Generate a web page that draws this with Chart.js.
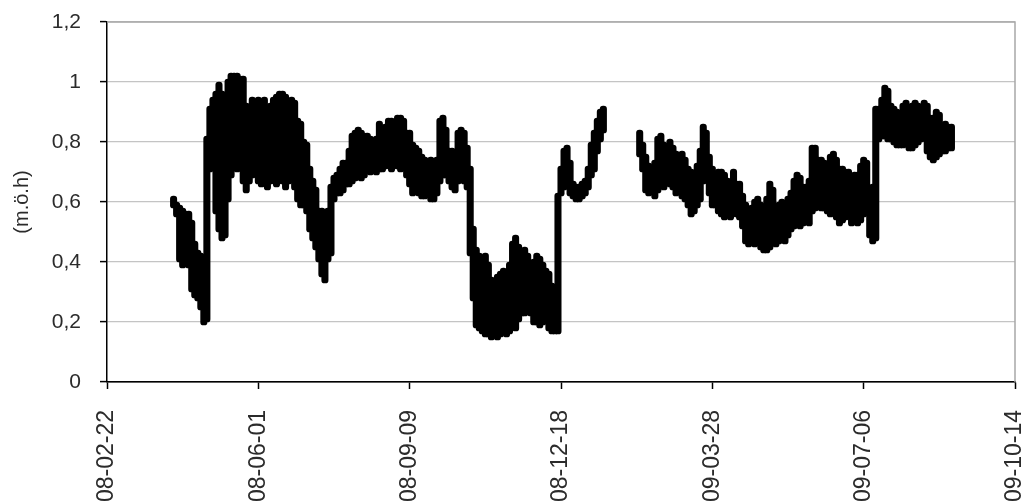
<!DOCTYPE html>
<html>
<head>
<meta charset="utf-8">
<script src="https://cdn.jsdelivr.net/npm/chart.js@4"></script>
<style>
  html, body { margin: 0; padding: 0; background: #fff; }
  #wrap { width: 1022px; height: 501px; position: relative; }
</style>
</head>
<body>
<div id="wrap"><canvas id="c"></canvas></div>
<script>
// Date tick labels, one every 100 days starting 2008-02-22
const tickLabels = ['08-02-22', '08-06-01', '08-09-09', '08-12-18', '09-03-28', '09-07-06', '09-10-14'];

// Water level readings (m.ö.h): daily band low / high, one pair every 2 days
const firstDay = 44;   // days after 2008-02-22
const stepDays = 2;

const lowVals = [
  0.58, 0.55, 0.40, 0.38, 0.41, 0.38, 0.30, 0.28, 0.27, 0.24,
  0.19, 0.20, 0.70, 0.72, 0.56, 0.50, 0.47, 0.48, 0.60, 0.68,
  0.72, 0.70, 0.72, 0.66, 0.63, 0.66, 0.68, 0.70, 0.66, 0.65,
  0.67, 0.64, 0.66, 0.68, 0.65, 0.69, 0.66, 0.64, 0.66, 0.68,
  0.64, 0.60, 0.58, 0.58, 0.56, 0.50, 0.47, 0.44, 0.40, 0.35,
  0.33, 0.40, 0.42, 0.60, 0.62, 0.62, 0.63, 0.65, 0.65, 0.66,
  0.67, 0.69, 0.67, 0.68, 0.70, 0.69, 0.70, 0.69, 0.70, 0.70,
  0.71, 0.72, 0.70, 0.72, 0.71, 0.70, 0.71, 0.68, 0.65, 0.62,
  0.63, 0.62, 0.61, 0.61, 0.62, 0.60, 0.60, 0.62, 0.66, 0.68,
  0.68, 0.66, 0.64, 0.63, 0.66, 0.67, 0.66, 0.64, 0.42, 0.27,
  0.18, 0.17, 0.16, 0.15, 0.15, 0.14, 0.15, 0.14, 0.15, 0.16,
  0.15, 0.16, 0.18, 0.17, 0.20, 0.22, 0.22, 0.24, 0.22, 0.19,
  0.19, 0.18, 0.19, 0.20, 0.17, 0.16, 0.16, 0.16, 0.62, 0.64,
  0.66, 0.62, 0.61, 0.60, 0.60, 0.61, 0.62, 0.64, 0.68, 0.70,
  0.76, 0.80, 0.83,
  null, null, null, null, null, null, null, null, null, null, null,
  0.75, 0.70, 0.63, 0.62, 0.63, 0.61, 0.63, 0.66, 0.64, 0.66,
  0.65, 0.64, 0.62, 0.63, 0.61, 0.60, 0.58, 0.55, 0.56, 0.58,
  0.60, 0.66, 0.67, 0.62, 0.58, 0.58, 0.56, 0.55, 0.54, 0.55,
  0.54, 0.56, 0.55, 0.54, 0.51, 0.46, 0.45, 0.46, 0.45, 0.46,
  0.44, 0.43, 0.43, 0.44, 0.46, 0.45, 0.46, 0.47, 0.46, 0.48,
  0.50, 0.51, 0.52, 0.51, 0.52, 0.53, 0.52, 0.56, 0.57, 0.58,
  0.57, 0.57, 0.56, 0.55, 0.56, 0.54, 0.52, 0.53, 0.54, 0.55,
  0.52, 0.53, 0.52, 0.53, 0.55, 0.56, 0.48, 0.46, 0.47, 0.80,
  0.81, 0.81, 0.80, 0.80, 0.79, 0.78, 0.78, 0.78, 0.79, 0.77,
  0.77, 0.78, 0.79, 0.80, 0.81, 0.76, 0.74, 0.73, 0.74, 0.75,
  0.76, 0.76, 0.77, 0.77
];

const highVals = [
  0.62, 0.60, 0.59, 0.58, 0.57, 0.57, 0.54, 0.47, 0.44, 0.43,
  0.40, 0.82, 0.92, 0.95, 0.97, 1.00, 0.97, 0.93, 1.01, 1.03,
  1.03, 1.03, 1.02, 1.02, 0.93, 0.92, 0.95, 0.94, 0.95, 0.93,
  0.95, 0.92, 0.93, 0.95, 0.96, 0.97, 0.97, 0.96, 0.94, 0.95,
  0.94, 0.88, 0.87, 0.81, 0.80, 0.72, 0.68, 0.65, 0.58, 0.58,
  0.57, 0.58, 0.66, 0.69, 0.70, 0.72, 0.74, 0.74, 0.78, 0.83,
  0.84, 0.85, 0.84, 0.83, 0.83, 0.82, 0.81, 0.82, 0.87, 0.83,
  0.86, 0.88, 0.88, 0.87, 0.89, 0.89, 0.88, 0.84, 0.84, 0.80,
  0.79, 0.78, 0.76, 0.75, 0.74, 0.75, 0.74, 0.75, 0.88, 0.89,
  0.85, 0.78, 0.78, 0.77, 0.84, 0.85, 0.84, 0.79, 0.72, 0.52,
  0.45, 0.43, 0.42, 0.43, 0.40, 0.35, 0.34, 0.36, 0.37, 0.38,
  0.37, 0.40, 0.47, 0.49, 0.46, 0.44, 0.45, 0.43, 0.40, 0.41,
  0.43, 0.42, 0.40, 0.38, 0.37, 0.33, 0.30, 0.63, 0.72, 0.78,
  0.79, 0.74, 0.67, 0.66, 0.66, 0.67, 0.68, 0.72, 0.80, 0.84,
  0.88, 0.91, 0.92,
  null, null, null, null, null, null, null, null, null, null, null,
  0.84, 0.80, 0.76, 0.73, 0.72, 0.74, 0.82, 0.83, 0.80, 0.78,
  0.81, 0.79, 0.77, 0.76, 0.77, 0.75, 0.72, 0.71, 0.70, 0.73,
  0.78, 0.86, 0.84, 0.76, 0.72, 0.70, 0.71, 0.71, 0.70, 0.68,
  0.67, 0.71, 0.67, 0.67, 0.63, 0.60, 0.58, 0.59, 0.61, 0.62,
  0.60, 0.57, 0.62, 0.67, 0.65, 0.59, 0.60, 0.61, 0.60, 0.62,
  0.64, 0.68, 0.70, 0.69, 0.66, 0.66, 0.68, 0.79, 0.79, 0.75,
  0.75, 0.74, 0.73, 0.76, 0.77, 0.75, 0.72, 0.72, 0.71, 0.71,
  0.69, 0.70, 0.70, 0.73, 0.75, 0.74, 0.64, 0.66, 0.92, 0.92,
  0.95, 0.99, 0.98, 0.93, 0.92, 0.91, 0.90, 0.93, 0.94, 0.91,
  0.93, 0.94, 0.93, 0.92, 0.94, 0.93, 0.89, 0.89, 0.91, 0.90,
  0.86, 0.87, 0.86, 0.86
];

// Floating bars spanning each low..high band
const levelBands = [];
lowVals.forEach((lo, i) => {
  if (lo === null || highVals[i] === null) return;
  levelBands.push({ x: firstDay + i * stepDays, y: [lo, highVals[i]] });
});

const FONT = "'Liberation Sans', Arial, sans-serif";
const TEXT = '#2b2b2b';

// Gray frame on the top and right of the plot area
const plotFrame = {
  id: 'plotFrame',
  beforeDatasetsDraw(chart) {
    const { ctx, chartArea: a } = chart;
    ctx.save();
    ctx.strokeStyle = '#a8a8a8';
    ctx.lineWidth = 1.5;
    ctx.beginPath();
    ctx.moveTo(a.left, a.top);
    ctx.lineTo(a.right, a.top);
    ctx.lineTo(a.right, a.bottom);
    ctx.stroke();
    ctx.restore();
  }
};

new Chart(document.getElementById('c'), {
  type: 'bar',
  data: {
    datasets: [{
      data: levelBands,
      backgroundColor: '#000',
      borderWidth: 0,
      borderSkipped: false,
      borderRadius: 3.2,
      barThickness: 6.4
    }]
  },
  plugins: [plotFrame],
  options: {
    responsive: true,
    maintainAspectRatio: false,
    animation: false,
    layout: { padding: { top: 22, right: 7, bottom: 0, left: 0 } },
    plugins: { legend: { display: false }, tooltip: { enabled: false } },
    scales: {
      x: {
        type: 'linear',
        min: 0,
        max: 600,
        offset: false,
        afterFit(s) { s.height = 119; s.paddingLeft = 0; s.paddingRight = 0; },
        ticks: {
          stepSize: 100,
          autoSkip: false,
          minRotation: 90,
          maxRotation: 90,
          padding: 21,
          color: TEXT,
          font: { family: FONT, size: 23 },
          callback: (v) => tickLabels[Math.round(v / 100)] ?? ''
        },
        grid: { drawOnChartArea: false, offset: false, tickLength: 7, tickColor: '#000', tickWidth: 1.5 },
        border: { color: '#000', width: 1.5 }
      },
      y: {
        min: 0,
        max: 1.2,
        afterFit(s) { s.width = 107; s.paddingTop = 0; s.paddingBottom = 0; },
        ticks: {
          stepSize: 0.2,
          padding: 19,
          color: TEXT,
          font: { family: FONT, size: 21 },
          callback: (v) => String(Number(v.toFixed(1))).replace('.', ',')
        },
        title: {
          display: true,
          text: '(m.ö.h)',
          color: TEXT,
          font: { family: FONT, size: 20 },
          padding: { top: 10, bottom: 0 }
        },
        grid: {
          color: (c) => (c.tick && c.tick.value === 0 ? '#000' : '#c4c4c4'),
          lineWidth: 1.2,
          tickLength: 7,
          tickColor: '#000',
          tickWidth: 1.5
        },
        border: { color: '#000', width: 1.5 }
      }
    }
  }
});
</script>
</body>
</html>
